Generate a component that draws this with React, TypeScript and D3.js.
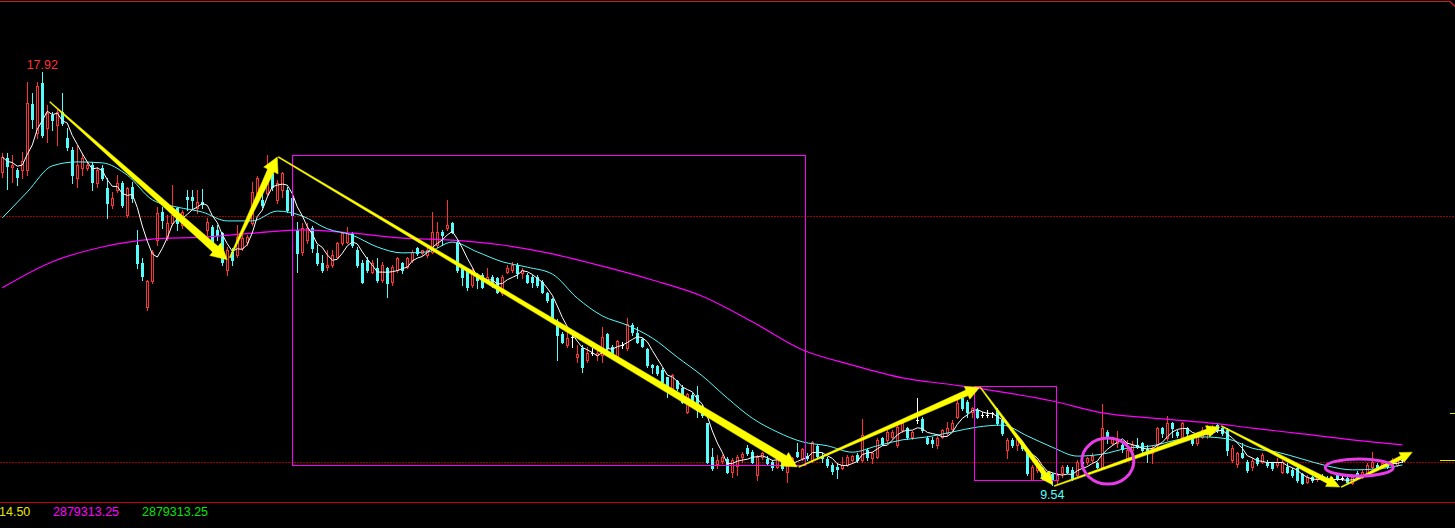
import * as d3 from "d3";
import { useEffect, useRef } from "react";

// daily candles, oldest first
const opens = [
  15.89, 16.18, 16.0, 15.93, 15.93, 15.93, 17.28, 16.69, 17.7, 16.79,
  17.05, 16.85, 17.11, 16.58, 16.34, 15.77, 15.98, 15.98, 16.04, 15.67,
  15.98, 15.57, 15.22, 15.53, 15.67, 15.02, 15.59, 14.41, 14.04, 13.15,
  13.68, 14.51, 15.08, 14.55, 14.86, 15.16, 14.82, 15.39, 15.39, 15.16,
  15.28, 14.72, 14.78, 14.72, 14.65, 13.9, 14.27, 14.21, 14.35, 14.47,
  14.86, 15.33, 15.33, 15.47, 15.87, 15.33, 15.53, 15.53, 15.37, 14.72,
  14.27, 14.51, 14.76, 14.25, 14.04, 13.96, 14.0, 14.17, 14.45, 14.47,
  14.65, 14.31, 14.04, 14.11, 13.86, 13.94, 13.7, 13.94, 13.66, 13.9,
  14.04, 13.96, 14.11, 14.35, 14.25, 14.21, 14.27, 14.41, 14.67, 14.76,
  14.86, 14.45, 13.94, 13.9, 13.6, 13.8, 13.8, 13.66, 13.76, 13.74,
  13.43, 13.86, 13.9, 14.0, 13.84, 13.8, 13.76, 13.76, 13.66, 13.43,
  13.31, 12.81, 12.6, 12.38, 12.54, 12.13, 12.32, 12.07, 12.22, 12.17,
  12.17, 12.6, 12.34, 12.13, 12.38, 12.32, 12.78, 12.62, 12.5, 12.3,
  11.97, 11.95, 11.87, 11.73, 11.5, 11.65, 11.5, 11.02, 11.36, 11.36,
  11.12, 10.79, 10.1, 9.96, 10.02, 10.06, 9.8, 9.92, 10.1, 10.28,
  10.2, 9.74, 10.1, 10.06, 10.0, 9.9, 10.0, 9.8, 9.98, 10.2,
  10.08, 10.12, 10.04, 10.33, 10.12, 10.06, 9.94, 9.9, 9.88, 9.94,
  10.04, 10.14, 10.04, 10.24, 10.08, 10.1, 10.49, 10.45, 10.51, 10.35,
  10.65, 10.69, 10.51, 10.85, 10.87, 10.49, 10.45, 10.35, 10.51, 10.59,
  10.67, 10.91, 11.3, 11.22, 11.02, 11.06, 10.96, 10.96, 11.0, 11.06,
  10.85, 10.24, 10.45, 10.35, 10.39, 10.18, 9.63, 9.84, 9.88, 9.78,
  9.76, 9.63, 9.78, 9.9, 9.84, 9.74, 10.0, 10.0, 10.04, 9.98,
  9.9, 10.61, 10.39, 10.39, 10.35, 10.08, 10.24, 10.35, 10.39, 10.26,
  10.18, 10.35, 10.69, 10.49, 10.79, 10.61, 10.51, 10.69, 10.49, 10.39,
  10.51, 10.59, 10.61, 10.75, 10.69, 10.65, 10.04, 9.96, 10.18, 10.0,
  9.9, 10.08, 10.0, 10.0, 9.98, 9.94, 9.8, 9.9, 9.84, 9.88,
  9.76, 9.59, 9.7, 9.65, 9.72, 9.67, 9.65, 9.74, 9.67, 9.67,
  9.57, 9.78, 9.7, 9.78, 9.9, 9.94, 9.9, 9.96, 9.94, 9.94, 10.04,
];

const highs = [
  16.28, 16.28, 16.24, 15.98, 16.3, 17.72, 17.5, 17.72, 17.92, 17.26,
  17.11, 17.15, 17.5, 16.79, 16.4, 16.44, 16.28, 16.1, 16.1, 16.0,
  16.04, 15.77, 15.49, 15.83, 15.71, 15.59, 15.69, 14.72, 14.15, 13.7,
  14.31, 15.18, 15.18, 15.02, 15.63, 15.18, 15.12, 15.53, 15.53, 15.53,
  15.55, 14.96, 14.82, 14.82, 14.67, 14.37, 14.35, 14.82, 14.61, 14.61,
  15.69, 15.81, 15.69, 16.24, 16.0, 15.73, 15.89, 15.59, 15.43, 14.88,
  14.86, 14.86, 14.8, 14.41, 14.21, 14.31, 14.31, 14.47, 14.67, 14.78,
  14.67, 14.37, 14.11, 14.17, 14.11, 14.15, 14.07, 13.96, 14.0, 14.17,
  14.07, 14.17, 14.31, 14.37, 14.31, 14.37, 15.08, 14.88, 14.72, 15.33,
  14.88, 14.51, 13.96, 13.9, 13.94, 13.84, 13.84, 13.94, 13.8, 13.76,
  13.8, 14.0, 14.07, 14.04, 13.94, 13.84, 13.8, 13.8, 13.7, 13.46,
  13.33, 12.91, 12.64, 12.74, 12.58, 12.38, 12.38, 12.34, 12.32, 12.32,
  12.74, 12.62, 12.38, 12.48, 12.44, 12.93, 12.83, 12.74, 12.52, 12.32,
  11.99, 11.97, 11.91, 11.73, 11.79, 11.67, 11.57, 11.4, 11.4, 11.55,
  11.16, 10.79, 10.28, 10.14, 10.14, 10.1, 10.08, 10.14, 10.2, 10.35,
  10.24, 10.14, 10.2, 10.12, 10.04, 10.08, 10.08, 9.98, 10.1, 10.39,
  10.28, 10.18, 10.43, 10.37, 10.18, 10.1, 9.98, 9.98, 10.1, 10.14,
  10.14, 10.18, 10.87, 10.28, 10.2, 10.49, 10.51, 10.65, 10.65, 10.81,
  10.85, 10.71, 10.63, 11.3, 10.91, 10.53, 10.51, 10.53, 10.67, 10.81,
  10.85, 11.26, 11.32, 11.26, 11.12, 11.1, 11.02, 11.06, 11.02, 11.1,
  10.89, 10.49, 10.49, 10.51, 10.41, 10.2, 9.94, 10.04, 9.9, 9.8,
  9.78, 9.78, 9.94, 9.94, 9.9, 10.04, 10.04, 10.1, 10.18, 10.0,
  11.18, 10.65, 10.49, 10.63, 10.39, 10.45, 10.43, 10.49, 10.41, 10.35,
  10.35, 10.71, 10.71, 10.94, 10.81, 10.65, 10.81, 10.71, 10.51, 10.61,
  10.71, 10.75, 10.75, 10.79, 10.73, 10.69, 10.35, 10.2, 10.39, 10.04,
  10.08, 10.1, 10.18, 10.04, 10.0, 10.08, 10.04, 9.98, 9.88, 9.9,
  9.78, 9.74, 9.72, 9.74, 9.76, 9.72, 9.7, 9.78, 9.74, 9.72,
  9.74, 9.82, 9.84, 9.98, 10.2, 9.98, 10.02, 10.0, 10.08, 10.06, 10.08,
];

const lows = [
  15.79, 15.55, 15.69, 15.63, 15.77, 15.83, 16.79, 16.58, 16.6, 16.5,
  16.75, 16.44, 16.85, 16.34, 15.67, 15.59, 15.83, 15.93, 15.53, 15.59,
  15.73, 14.96, 15.16, 15.49, 15.18, 14.98, 15.28, 13.94, 13.7, 13.09,
  13.64, 14.41, 14.76, 14.51, 14.82, 14.72, 14.76, 15.12, 15.16, 15.06,
  15.16, 14.61, 14.27, 14.51, 14.0, 13.8, 14.0, 14.17, 14.31, 14.41,
  14.82, 15.28, 15.18, 15.43, 15.53, 15.26, 15.39, 15.08, 14.96, 13.86,
  14.21, 14.45, 14.27, 14.0, 13.86, 13.9, 13.96, 14.15, 14.41, 14.45,
  14.37, 13.96, 13.64, 13.86, 13.84, 13.66, 13.66, 13.35, 13.6, 13.86,
  13.84, 13.94, 14.07, 14.21, 14.21, 14.17, 14.25, 14.37, 14.41, 14.72,
  14.65, 13.86, 13.6, 13.5, 13.56, 13.54, 13.54, 13.64, 13.56, 13.43,
  13.39, 13.84, 13.86, 13.74, 13.74, 13.64, 13.56, 13.56, 13.43, 13.25,
  12.89, 12.07, 12.42, 12.34, 12.34, 12.03, 11.83, 12.03, 12.17, 12.07,
  12.03, 12.24, 12.11, 12.11, 12.32, 12.28, 12.58, 12.42, 12.34, 11.93,
  11.81, 11.77, 11.61, 11.32, 11.46, 11.46, 11.2, 11.0, 11.2, 10.91,
  10.91, 9.98, 9.84, 9.88, 9.98, 9.78, 9.7, 9.74, 10.0, 10.14,
  9.98, 9.63, 10.06, 9.94, 9.84, 9.88, 9.84, 9.59, 9.94, 10.1,
  10.04, 10.04, 10.0, 10.08, 10.0, 9.9, 9.76, 9.67, 9.86, 9.92,
  10.0, 10.0, 10.0, 10.04, 9.98, 10.08, 10.35, 10.39, 10.49, 10.3,
  10.61, 10.47, 10.47, 10.79, 10.61, 10.37, 10.3, 10.28, 10.49, 10.55,
  10.65, 10.89, 11.06, 10.91, 10.91, 10.89, 10.91, 10.91, 10.91, 10.75,
  10.55, 10.08, 10.3, 10.24, 10.24, 9.74, 9.63, 9.8, 9.63, 9.63,
  9.54, 9.56, 9.7, 9.78, 9.63, 9.7, 9.94, 9.96, 10.0, 9.88,
  9.88, 10.39, 10.35, 10.3, 10.2, 10.04, 10.2, 10.28, 10.2, 10.0,
  9.98, 10.3, 10.51, 10.45, 10.51, 10.51, 10.49, 10.51, 10.35, 10.35,
  10.49, 10.49, 10.57, 10.61, 10.55, 10.14, 10.0, 9.9, 10.08, 9.8,
  9.84, 9.94, 9.98, 9.9, 9.84, 9.9, 9.78, 9.78, 9.7, 9.59,
  9.55, 9.57, 9.59, 9.61, 9.63, 9.59, 9.55, 9.63, 9.63, 9.57,
  9.55, 9.67, 9.67, 9.74, 9.88, 9.86, 9.88, 9.88, 9.92, 9.92, 10.0,
];

const closes = [
  16.2, 16.02, 16.04, 15.79, 16.12, 17.3, 16.97, 17.64, 16.65, 17.09,
  16.95, 17.11, 16.89, 16.4, 15.83, 16.04, 16.18, 16.04, 15.69, 15.93,
  15.77, 15.26, 15.37, 15.67, 15.22, 15.57, 15.37, 14.04, 13.78, 13.68,
  14.27, 15.06, 14.92, 14.86, 15.02, 14.86, 15.08, 15.35, 15.33, 15.28,
  15.24, 14.88, 14.31, 14.61, 14.07, 14.31, 14.11, 14.57, 14.55, 14.57,
  15.49, 15.77, 15.22, 15.89, 15.59, 15.67, 15.87, 15.12, 15.02, 14.25,
  14.76, 14.76, 14.35, 14.04, 13.9, 14.0, 14.21, 14.45, 14.65, 14.65,
  14.41, 14.0, 13.66, 13.9, 14.04, 13.7, 14.0, 13.64, 13.96, 14.15,
  13.9, 14.15, 14.27, 14.25, 14.31, 14.31, 14.67, 14.67, 14.61, 14.82,
  14.67, 13.9, 13.76, 13.56, 13.9, 13.7, 13.56, 13.76, 13.6, 13.46,
  13.76, 13.94, 14.0, 13.84, 13.9, 13.66, 13.66, 13.6, 13.46, 13.29,
  12.93, 12.58, 12.44, 12.52, 12.54, 12.2, 11.93, 12.22, 12.22, 12.22,
  12.54, 12.32, 12.17, 12.46, 12.38, 12.81, 12.64, 12.44, 12.36, 11.97,
  11.93, 11.81, 11.63, 11.5, 11.77, 11.5, 11.22, 11.38, 11.26, 11.06,
  10.96, 10.0, 9.88, 10.04, 10.1, 9.8, 10.04, 10.1, 10.16, 10.18,
  10.0, 10.1, 10.18, 9.98, 9.9, 10.06, 9.88, 9.92, 10.08, 10.12,
  10.26, 10.08, 10.41, 10.12, 10.08, 9.94, 9.82, 9.86, 9.94, 10.1,
  10.12, 10.04, 10.55, 10.1, 10.18, 10.45, 10.37, 10.61, 10.61, 10.71,
  10.79, 10.51, 10.61, 10.85, 10.65, 10.39, 10.39, 10.49, 10.65, 10.69,
  10.79, 11.2, 11.1, 11.02, 11.1, 10.91, 10.96, 10.96, 11.0, 10.79,
  10.59, 10.45, 10.35, 10.47, 10.28, 9.78, 9.9, 9.98, 9.7, 9.7,
  9.63, 9.74, 9.9, 9.8, 9.67, 10.0, 9.98, 10.08, 10.12, 9.9,
  10.69, 10.49, 10.47, 10.45, 10.26, 10.24, 10.35, 10.3, 10.24, 10.2,
  10.28, 10.69, 10.59, 10.79, 10.69, 10.55, 10.79, 10.59, 10.39, 10.51,
  10.65, 10.65, 10.69, 10.65, 10.59, 10.24, 10.28, 10.18, 10.1, 9.84,
  10.02, 9.98, 10.14, 9.94, 9.88, 10.0, 10.0, 9.8, 9.74, 9.63,
  9.57, 9.7, 9.63, 9.7, 9.67, 9.63, 9.57, 9.67, 9.67, 9.59,
  9.7, 9.7, 9.8, 9.94, 10.0, 9.9, 9.98, 9.92, 10.04, 10.02, 10.04,
];

const midAverage = [
  14.96, 15.49, 16.02, 16.1, 16.08, 15.83, 15.33, 15.18, 15.08, 14.9,
  14.9, 15.1, 15.0, 14.74, 14.61, 14.37, 14.25, 14.27, 14.47, 14.27,
  14.07, 13.96, 13.82, 13.33, 12.97, 12.78, 12.52, 12.13, 11.75, 11.3,
  10.89, 10.61, 10.41, 10.33, 10.2, 10.33, 10.45, 10.51, 10.61, 10.71,
  10.75, 10.53, 10.3, 10.12, 10.16, 10.28, 10.33, 10.45, 10.51, 10.47,
  10.28, 10.2, 10.06, 9.92, 9.84, 9.86, 9.94,
];
const midStep = 5;

const longAverage = [
  13.54, 14.07, 14.37, 14.53, 14.57, 14.65, 14.72, 14.65, 14.55, 14.51,
  14.41, 14.23, 13.98, 13.7, 13.37, 12.85, 12.28, 11.97, 11.71, 11.57,
  11.42, 11.24, 11.0, 10.89, 10.81, 10.69, 10.57, 10.45, 10.35,
];
const longStep = 10;

const guideLevels = [15, 10];

// hand-drawn trend arrows: [session, price]
const trendStarts = [
  [9.5, 17.32], [45.5, 14.15], [55.2, 16.2], [159.3, 9.9],
  [195.6, 11.52], [210.4, 9.51], [243.8, 10.73], [267.8, 9.49],
];
const trendEnds = [
  [45, 14.11], [55, 16.2], [159, 9.9], [195.5, 11.52],
  [210.1, 9.53], [243.5, 10.71], [267.5, 9.49], [282, 10.2],
];

// boxes: [fromSession, topPrice, toSession, bottomPrice]
const boxes = [
  [57.9, 16.24, 160.5, 9.94],
  [194.4, 11.55, 210.7, 9.63],
];

// rings: [session, price]
const rings = [
  [221.1, 10.02],
  [271.4, 9.89],
];

const footerTexts = ["14.50", "2879313.25", "2879313.25"];

const WIDTH = 1455;
const HEIGHT = 528;
const RED = "#ff3232";
const CYAN = "#54fcfc";
const MAGENTA = "#ff00ff";
const FONT = "'Liberation Sans', Arial, sans-serif";

export default function App() {
  const svgRef = useRef<SVGSVGElement>(null);

  useEffect(() => {
    const svg = d3.select(svgRef.current)
      .attr("width", WIDTH)
      .attr("height", HEIGHT);

    svg.selectAll("*").remove();

    const { x, y } = createScales();

    drawFrame(svg, y);
    drawCandles(svg, x, y);
    drawAverages(svg, x, y);
    drawMarkup(svg, x, y);
    drawLabels(svg, x, y);
  }, []);

  return (
    <svg
      ref={svgRef}
      style={{ position: "fixed", left: 0, top: 0, background: "#000", display: "block" }}
    ></svg>
  );
}

function createScales() {
  const n = closes.length;
  const x = d3.scaleLinear().domain([0, n - 1]).range([2.3, 2.3 + 5 * (n - 1)]);
  const y = d3.scaleLinear().domain([10, 15]).range([462, 216]);
  return { x, y };
}

function drawFrame(svg: any, y: any) {
  svg.append("rect")
    .attr("width", WIDTH)
    .attr("height", HEIGHT)
    .attr("fill", "#000");

  // top border with the little corner tick
  svg.append("rect")
    .attr("x", 0).attr("y", 1)
    .attr("width", 1450).attr("height", 1)
    .attr("fill", "#c81e1e");
  svg.append("line")
    .attr("x1", 1450).attr("y1", 1.5)
    .attr("x2", 1455).attr("y2", 6.5)
    .attr("stroke", "#c81e1e")
    .attr("stroke-width", 1.5);

  // bottom border
  svg.append("rect")
    .attr("x", 0).attr("y", 502)
    .attr("width", WIDTH).attr("height", 1)
    .attr("fill", "#c80000");

  // dotted price levels
  svg.append("g")
    .attr("shape-rendering", "crispEdges")
    .selectAll("line")
    .data(guideLevels)
    .join("line")
    .attr("x1", 0)
    .attr("x2", WIDTH)
    .attr("y1", (d: number) => Math.round(y(d)) + 0.5)
    .attr("y2", (d: number) => Math.round(y(d)) + 0.5)
    .attr("stroke", "#a00000")
    .attr("stroke-dasharray", "2,1");

  // right-edge ticks
  const last = closes[closes.length - 1];
  svg.append("rect")
    .attr("x", 1450).attr("y", Math.round(y(11)))
    .attr("width", 5).attr("height", 1)
    .attr("fill", "#e6e600");
  svg.append("rect")
    .attr("x", 1440).attr("y", Math.round(y(last)))
    .attr("width", 15).attr("height", 1)
    .attr("fill", "#e6e600");
}

function drawCandles(svg: any, x: any, y: any) {
  const g = svg.append("g").attr("shape-rendering", "crispEdges");

  closes.forEach((c, i) => {
    const o = opens[i];
    const cx = Math.floor(x(i));
    const color = c > o ? RED : c < o ? CYAN : "#ffffff";
    const yh = Math.round(y(highs[i]));
    const yl = Math.round(y(lows[i]));
    const top = Math.round(y(Math.max(o, c)));
    const bot = Math.round(y(Math.min(o, c)));

    // wick
    g.append("rect")
      .attr("x", cx).attr("y", yh)
      .attr("width", 1).attr("height", Math.max(1, yl - yh + 1))
      .attr("fill", color);

    // body
    g.append("rect")
      .attr("x", cx - 1).attr("y", top)
      .attr("width", 3).attr("height", Math.max(1, bot - top + 1))
      .attr("fill", color);

    // rising days are hollow
    if (c > o && bot - top > 1) {
      g.append("rect")
        .attr("x", cx).attr("y", top + 1)
        .attr("width", 1).attr("height", bot - top - 1)
        .attr("fill", "#000");
    }
  });
}

function drawAverages(svg: any, x: any, y: any) {
  const short = closes.map((_, i) => d3.mean(closes.slice(Math.max(0, i - 4), i + 1)) as number);

  const shortLine = d3.line<number>()
    .x((_, i) => x(i))
    .y(d => y(d));

  const midLine = d3.line<number>()
    .x((_, k) => x(k * midStep))
    .y(d => y(d))
    .curve(d3.curveMonotoneX);

  const longLine = d3.line<number>()
    .x((_, k) => x(k * longStep))
    .y(d => y(d))
    .curve(d3.curveMonotoneX);

  svg.append("path")
    .attr("d", longLine(longAverage))
    .attr("fill", "none")
    .attr("stroke", MAGENTA)
    .attr("stroke-width", 1.2);

  svg.append("path")
    .attr("d", midLine(midAverage))
    .attr("fill", "none")
    .attr("stroke", CYAN)
    .attr("stroke-width", 1);

  svg.append("path")
    .attr("d", shortLine(short))
    .attr("fill", "none")
    .attr("stroke", "#ffffff")
    .attr("stroke-width", 1);
}

function arrowPath(x0: number, y0: number, x1: number, y1: number, shaft: number, headW: number, headL: number) {
  const dx = x1 - x0;
  const dy = y1 - y0;
  const len = Math.hypot(dx, dy);
  const ux = dx / len;
  const uy = dy / len;
  const nx = -uy;
  const ny = ux;
  const bx = x1 - ux * headL;
  const by = y1 - uy * headL;
  const pts = [
    [x0 + nx * 0.5, y0 + ny * 0.5],
    [bx + nx * shaft / 2, by + ny * shaft / 2],
    [bx + nx * headW / 2, by + ny * headW / 2],
    [x1, y1],
    [bx - nx * headW / 2, by - ny * headW / 2],
    [bx - nx * shaft / 2, by - ny * shaft / 2],
    [x0 - nx * 0.5, y0 - ny * 0.5],
  ];
  return "M" + pts.map(p => p[0].toFixed(1) + "," + p[1].toFixed(1)).join("L") + "Z";
}

function drawMarkup(svg: any, x: any, y: any) {
  // boxes
  svg.append("g")
    .attr("shape-rendering", "crispEdges")
    .selectAll("rect")
    .data(boxes)
    .join("rect")
    .attr("x", (d: number[]) => Math.round(x(d[0])) + 0.5)
    .attr("y", (d: number[]) => Math.round(y(d[1])) + 0.5)
    .attr("width", (d: number[]) => Math.round(x(d[2])) - Math.round(x(d[0])))
    .attr("height", (d: number[]) => Math.round(y(d[3])) - Math.round(y(d[1])))
    .attr("fill", "none")
    .attr("stroke", MAGENTA)
    .attr("stroke-width", 1);

  // arrows
  const shafts = [8, 7, 8, 6, 5, 5, 5, 4];
  const heads = [17, 16, 16, 14, 12, 12, 12, 11];
  const headLens = [16, 15, 15, 14, 13, 13, 13, 12];

  svg.append("g")
    .selectAll("path")
    .data(trendStarts)
    .join("path")
    .attr("d", (d: number[], i: number) =>
      arrowPath(x(d[0]), y(d[1]), x(trendEnds[i][0]), y(trendEnds[i][1]), shafts[i], heads[i], headLens[i]))
    .attr("fill", "#ffff00")
    .attr("stroke", "#e6e600")
    .attr("stroke-width", 0.5);

  // rings
  const radii = [[26, 23], [34, 8.5]];
  svg.append("g")
    .selectAll("ellipse")
    .data(rings)
    .join("ellipse")
    .attr("cx", (d: number[]) => x(d[0]))
    .attr("cy", (d: number[]) => y(d[1]))
    .attr("rx", (_: any, i: number) => radii[i][0])
    .attr("ry", (_: any, i: number) => radii[i][1])
    .attr("fill", "none")
    .attr("stroke", "#e83ce8")
    .attr("stroke-width", 3);
}

function drawLabels(svg: any, x: any, y: any) {
  const hiIdx = d3.maxIndex(highs);
  const loIdx = d3.minIndex(lows);

  svg.append("text")
    .attr("x", x(hiIdx))
    .attr("y", y(highs[hiIdx]) - 3.5)
    .attr("text-anchor", "middle")
    .attr("fill", RED)
    .attr("font-family", FONT)
    .attr("font-size", "12.5px")
    .text(highs[hiIdx].toFixed(2));

  svg.append("text")
    .attr("x", x(loIdx))
    .attr("y", y(lows[loIdx]) + 14.5)
    .attr("text-anchor", "middle")
    .attr("fill", CYAN)
    .attr("font-family", FONT)
    .attr("font-size", "12.5px")
    .text(lows[loIdx].toFixed(2));

  const footerX = [-1, 53, 142];
  const footerColors = ["#e6e600", MAGENTA, "#00e600"];
  svg.append("g")
    .selectAll("text")
    .data(footerTexts)
    .join("text")
    .attr("x", (_: any, i: number) => footerX[i])
    .attr("y", 516)
    .attr("fill", (_: any, i: number) => footerColors[i])
    .attr("font-family", FONT)
    .attr("font-size", "12.5px")
    .text((d: string) => d);
}
